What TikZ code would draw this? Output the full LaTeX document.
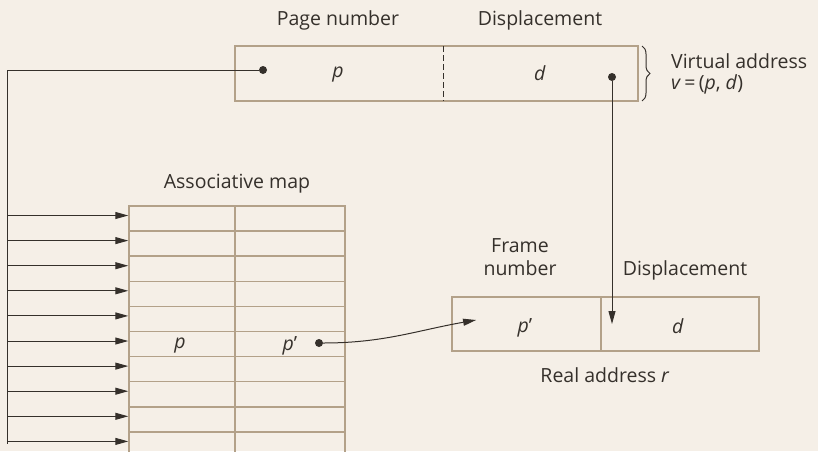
\documentclass[tikz,border=0pt]{standalone}
\usepackage{fontspec}
\setmainfont{Open Sans}
\usetikzlibrary{arrows.meta,decorations.pathreplacing}
\definecolor{paper}{HTML}{F5EFE7}
\definecolor{tan}{HTML}{B3A189}
\definecolor{ink}{HTML}{35302B}
\tikzset{
  field/.style={draw=tan, line width=1.8pt, minimum height=55pt, inner sep=0pt},
  cell/.style={draw=tan, line width=1.5pt, minimum height=25.1pt, inner sep=0pt},
  lbl/.style={text=ink, font=\fontsize{19.5}{23}\selectfont, inner sep=0pt},
  dot/.style={circle, fill=ink, minimum size=8pt, inner sep=0pt},
  arr/.style={-{Triangle[length=13pt,width=7pt]}, ink, line width=1pt},
  wire/.style={ink, line width=1pt}
}
\begin{document}
\begin{tikzpicture}[x=1pt,y=-1pt]
    \fill[paper] (0,0) rectangle (818,451);
    \useasboundingbox (0,0) rectangle (818,451);
    \begin{scope}
    \clip (0,0) rectangle (818,451);
    % virtual address
    \node[field, minimum width=403pt] (VA) at (436.5,73.5) {};
    \draw[ink, dash pattern=on 6pt off 3pt, line width=0.8pt] (443,46) -- (443,101);
    \node[lbl] (vp) at (338,75) {\textit{p}};
    \node[lbl] (vd) at (540,73) {\textit{d}};
    \node[lbl] (pn) at (338,20) {Page number};
    \node[lbl] (dn) at (540,20) {Displacement};
    \draw[ink, line width=1pt, decorate, decoration={brace, amplitude=8pt}] (642,46) -- (642,101);
    \node[lbl, anchor=west] (va1) at (671,61) {Virtual address};
    \node[lbl, anchor=west] (va2) at (671,84) {\textit{v}\,=\,(\textit{p}, \textit{d})};
    \node[dot] (dp) at (263,70) {};
    \node[dot] (dd) at (612,77) {};
    % associative map
    \node[lbl] (am) at (237,184) {Associative map};
    \foreach \i in {0,...,9} {
        \node[cell, minimum width=106pt] (pk\i) at (182,218.5+25.1*\i) {};
        \node[cell, minimum width=110pt] (fr\i) at (290,218.5+25.1*\i) {};
    }
    \node[lbl] (tp) at (180,346) {\textit{p}};
    \node[lbl] (tq) at (290,346) {\textit{p}’};
    \node[dot] (dq) at (319,343) {};
    % real address
    \node[field, minimum width=149pt, minimum height=54pt] (RF) at (526.5,324) {};
    \node[field, minimum width=158pt, minimum height=54pt] (RD) at (680,324) {};
    \node[lbl] (rp) at (525,328) {\textit{p}’};
    \node[lbl] (rd) at (678,326) {\textit{d}};
    \node[lbl, align=center] (fn) at (520,257) {Frame\\number};
    \node[lbl] (rdn) at (685,270) {Displacement};
    \node[lbl] (ra) at (605,375) {Real address \textit{r}};
    % connectors
    \draw[wire] (dp) -- (7,70) coordinate (COR) -- (COR |- pk9.west);
    \foreach \i in {0,...,9}
        \draw[arr] ([yshift=3pt]pk\i.west -| COR) -- ([yshift=3pt]pk\i.west);
    \draw[arr] (dd) -- (dd |- RD.center);
    \coordinate (PIN) at ([xshift=25pt,yshift=4pt]RF.west);
    \draw[arr] (dq) to[out=0, in=190] (PIN);
    \end{scope}
\end{tikzpicture}
\end{document}
